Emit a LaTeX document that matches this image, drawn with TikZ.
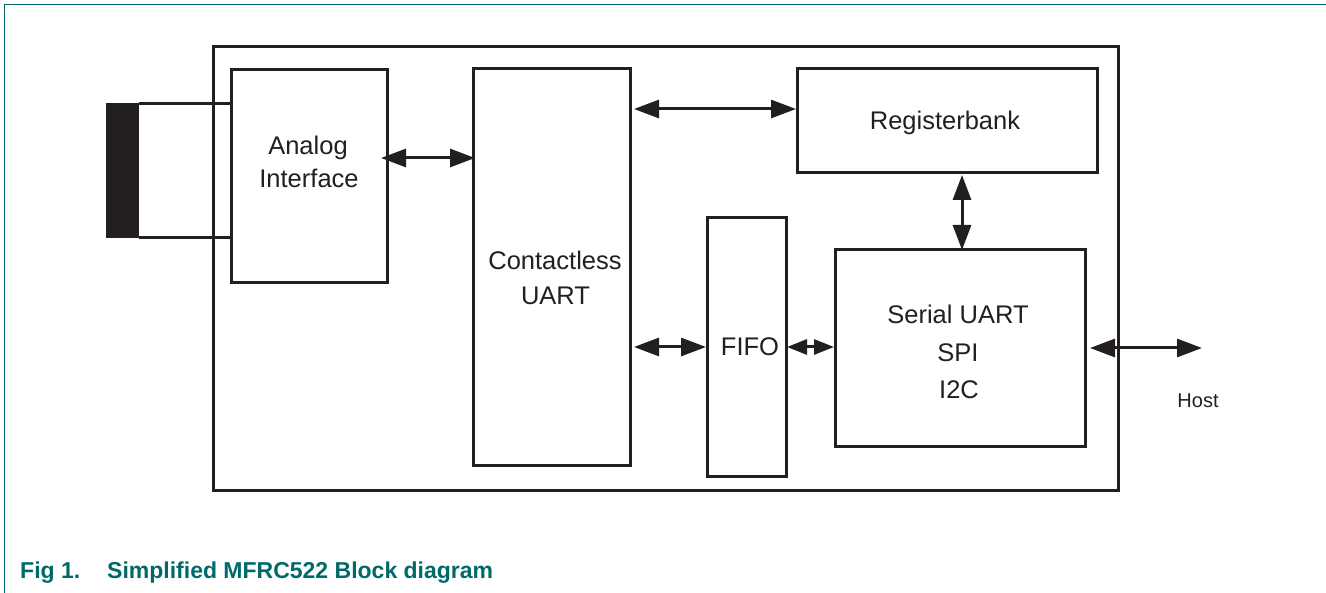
\documentclass[tikz,border=0pt]{standalone}
\usepackage{fontspec}
\setmainfont{Liberation Sans}
\usetikzlibrary{arrows.meta,calc}
\definecolor{nxpteal}{HTML}{006A6A}
\definecolor{ink}{HTML}{231F20}
\begin{document}
\begin{tikzpicture}[x=1pt,y=-1pt,
  blk/.style={draw=ink, line width=3pt, inner sep=0pt, outer sep=0pt},
  txt/.style={font=\fontsize{25.5}{30}\selectfont, text=ink, inner sep=0pt, anchor=base},
  small/.style={font=\fontsize{20}{24}\selectfont, text=ink, inner sep=0pt, anchor=base},
  captxt/.style={font=\fontsize{23}{27}\selectfont\bfseries, text=nxpteal, inner sep=0pt, anchor=base west},
  wire/.style={draw=ink, line width=2.8pt},
  dbl/.style={draw=ink, line width=3pt,
     {Triangle[length=25pt 0 0,width=18pt 0 0]}-{Triangle[length=25pt 0 0,width=18pt 0 0]}},
  dblsmall/.style={draw=ink, line width=3pt,
     {Triangle[length=20pt 0 0,width=15pt 0 0]}-{Triangle[length=20pt 0 0,width=15pt 0 0]}}]
\fill[white] (0,0) rectangle (1326,593);
\useasboundingbox (0,0) rectangle (1326,593);
% frame
\draw[nxpteal, line width=1.6pt] (4.5,593) -- (4.5,4.5) -- (1326,4.5);
% boxes
\node[blk, minimum width=905pt, minimum height=444pt] (outer) at (665.5,269) {};
\node[blk, minimum width=156pt, minimum height=213pt] (ana) at (309,176.5) {};
\node[blk, minimum width=157pt, minimum height=397pt] (cl) at (551.5,267.5) {};
\node[blk, minimum width=300pt, minimum height=104pt] (reg) at (947,121) {};
\node[blk, minimum width=79pt, minimum height=259pt] (fifo) at (746.5,347.5) {};
\node[blk, minimum width=250pt, minimum height=197pt] (ser) at (960,348.5) {};
\node[fill=ink, inner sep=0pt, minimum width=33pt, minimum height=135pt] (ant) at (122.5,170.5) {};
% texts
\node[txt] (anaA) at (308,155) {Analog};
\node[txt] (anaB) at (309,188) {Interface};
\node[txt] (clA) at (555,270) {Contactless};
\node[txt] (clB) at (555.5,305) {UART};
\node[txt] (regT) at (945,130) {Registerbank};
\node[txt] (fifoT) at (750,356) {FIFO};
\node[txt] (serA) at (958,324) {Serial UART};
\node[txt] (serB) at (958,362) {SPI};
\node[txt] (serC) at (959,399) {I2C};
\node[small] (host) at (1198,408) {Host};
\node[captxt] (figno) at (20,578) {Fig 1.};
\node[captxt] (figtitle) at (107,578) {Simplified MFRC522 Block diagram};
% antenna wires
\draw[wire] ($(ant.north east)+(0,1)$) -- ($(ana.west|-ant.north east)+(2,1)$);
\draw[wire] ($(ant.south east)+(0,-1)$) -- ($(ana.west|-ant.south east)+(2,-1)$);
% connectors
\coordinate (hostend) at (1202,348);
\draw[dbl] ($(ana.east|-0,158)+(-6,0)$) -- ($(cl.west|-0,158)+(2,0)$);
\draw[dbl] ($(cl.east|-0,109)+(4,0)$) -- ($(reg.west|-0,109)+(-1,0)$);
\draw[dbl] ($(reg.south-|962,0)+(0,2)$) -- (ser.north-|962,0);
\draw[dbl] ($(cl.east|-0,347)+(4,0)$) -- ($(fifo.west|-0,347)+(-1,0)$);
\draw[dblsmall] ($(fifo.east|-0,347)+(1,0)$) -- ($(ser.west|-0,347)+(-1,0)$);
\draw[dbl] ($(ser.east|-hostend)+(5,0)$) -- (hostend);
\end{tikzpicture}
\end{document}
